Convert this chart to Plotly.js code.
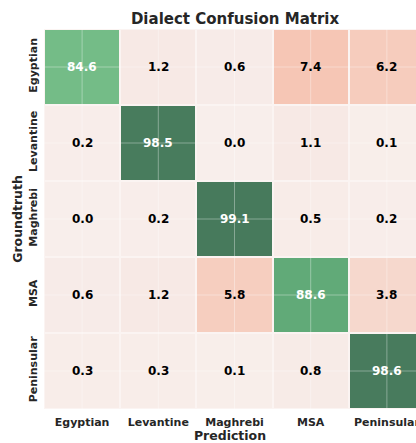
<!DOCTYPE html>
<html><head><meta charset="utf-8">
<script src="https://cdn.plot.ly/plotly-3.0.1.min.js"></script>
<style>html,body{margin:0;padding:0;background:#fff;overflow:hidden}</style>
</head><body>
<div id="chart" style="width:416px;height:443px"></div>
<script>
const predLabels = ["Egyptian", "Levantine", "Maghrebi", "MSA", "Peninsular"];
const truthLabels = ["Egyptian", "Levantine", "Maghrebi", "MSA", "Peninsular"];
const rowEgyptian   = [84.6, 1.2, 0.6, 7.4, 6.2];
const rowLevantine  = [0.2, 98.5, 0.0, 1.1, 0.1];
const rowMaghrebi   = [0.0, 0.2, 99.1, 0.5, 0.2];
const rowMSA        = [0.6, 1.2, 5.8, 88.6, 3.8];
const rowPeninsular = [0.3, 0.3, 0.1, 0.8, 98.6];
const z = [rowEgyptian, rowLevantine, rowMaghrebi, rowMSA, rowPeninsular];

const xi = predLabels.map((_, i) => i);
const yi = truthLabels.map((_, i) => i);

const colorscale = [
  [0.0, '#f8eeeb'],
  [0.012, '#f7e9e5'],
  [0.04, '#f6d7cc'],
  [0.074, '#f6c6b5'],
  [0.3, '#e9c9b0'],
  [0.6, '#a9cf9f'],
  [0.846, '#78bf8a'],
  [0.886, '#63ae7a'],
  [0.95, '#54906a'],
  [0.985, '#4a7e5e'],
  [1.0, '#477a5c']
];

const trace = {
  type: 'heatmap', x: xi, y: yi, z: z,
  zmin: 0, zmax: 99.1, colorscale: colorscale, showscale: false,
  xgap: 2, ygap: 2, hoverinfo: 'skip'
};

const annotations = [];
z.forEach((row, r) => row.forEach((v, c) => {
  annotations.push({
    x: c, y: r, xref: 'x', yref: 'y', showarrow: false,
    text: v.toFixed(1),
    font: {family: 'DejaVu Sans', size: 12, weight: 'bold', color: v > 50 ? '#ffffff' : '#000000'}
  });
}));

const shapes = [];
xi.forEach(i => shapes.push({type: 'line', xref: 'x', yref: 'paper', x0: i, x1: i, y0: 0, y1: 1,
  line: {color: 'rgba(255,255,255,0.35)', width: 1}, layer: 'above'}));
yi.forEach(i => shapes.push({type: 'line', xref: 'paper', yref: 'y', x0: 0, x1: 1, y0: i, y1: i,
  line: {color: 'rgba(255,255,255,0.35)', width: 1}, layer: 'above'}));

const tickFont = {family: 'DejaVu Sans', size: 11, weight: 'bold', color: '#262626'};
const layout = {
  width: 416, height: 443,
  margin: {l: 44, r: 0, t: 29, b: 34, pad: 0},
  paper_bgcolor: '#ffffff', plot_bgcolor: '#fbf4f2',
  title: {text: 'Dialect Confusion Matrix', font: {family: 'DejaVu Sans', size: 15, weight: 'bold', color: '#262626'},
    xref: 'container', x: 0.565, xanchor: 'center', yref: 'container', y: 1 - 19/443, yanchor: 'middle'},
  xaxis: {range: [-0.5, 4.382], tickvals: xi, ticktext: predLabels, tickfont: tickFont,
    ticklabeloverflow: 'allow', ticklabelstandoff: 5,
    showgrid: false, zeroline: false, showline: false, ticks: '', ticklen: 0,
    title: {text: 'Prediction', font: {family: 'DejaVu Sans', size: 12.5, weight: 'bold', color: '#262626'}, standoff: 2}},
  yaxis: {range: [4.5, -0.5], tickvals: yi, ticktext: truthLabels, tickfont: tickFont, tickangle: -90,
    ticklabeloverflow: 'allow', ticklabelstandoff: 4,
    showgrid: false, zeroline: false, showline: false, ticks: '', ticklen: 0,
    title: {text: 'Groundtruth', font: {family: 'DejaVu Sans', size: 12.5, weight: 'bold', color: '#262626'}, standoff: 1}},
  annotations: annotations, shapes: shapes
};
Plotly.newPlot('chart', [trace], layout, {displayModeBar: false, staticPlot: true});
</script>
</body></html>
